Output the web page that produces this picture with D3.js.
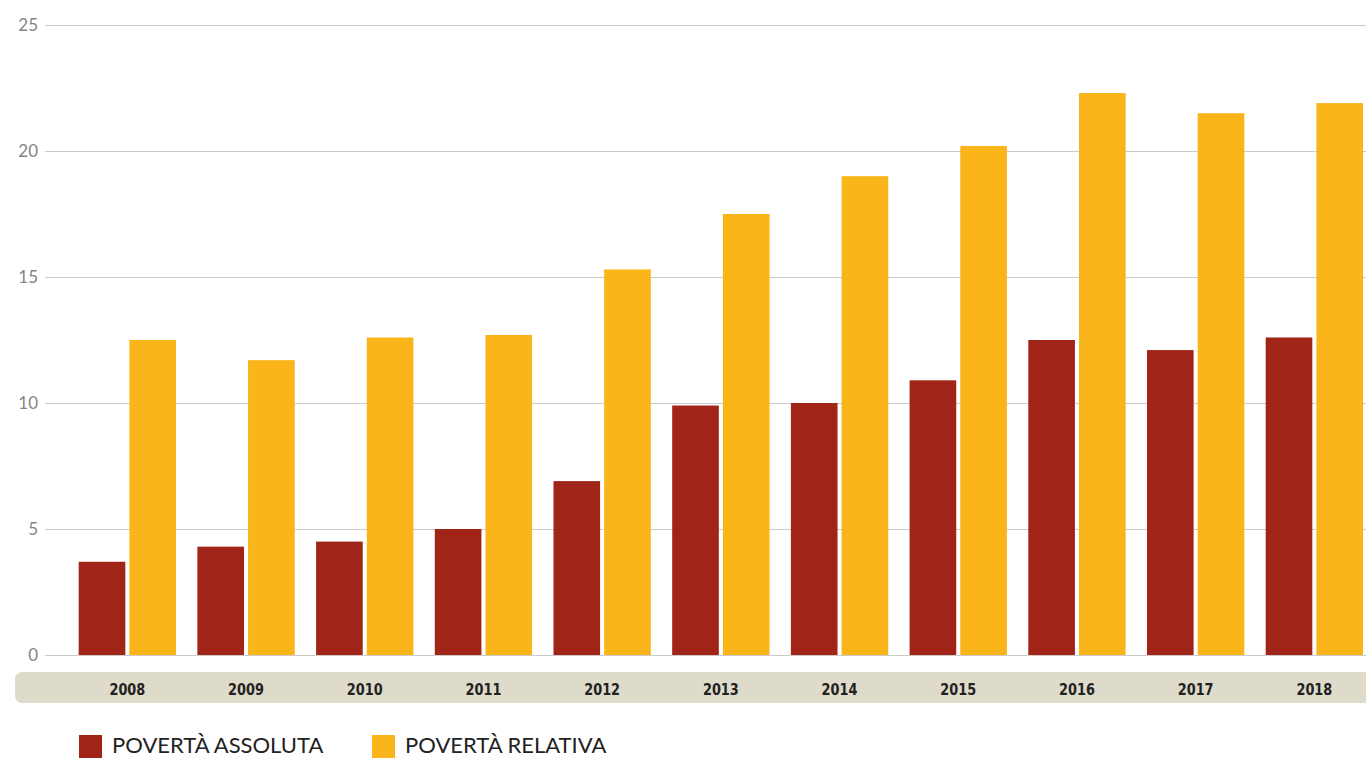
<!DOCTYPE html>
<html>
<head>
<meta charset="utf-8">
<script src="https://cdn.jsdelivr.net/npm/d3@7"></script>
<style>
  body { margin: 0; background: #fff; }
  svg { display: block; }
</style>
</head>
<body>
<div id="vis"></div>
<script>
var years = ["2008", "2009", "2010", "2011", "2012", "2013", "2014", "2015", "2016", "2017", "2018"];
var assoluta = [3.7, 4.3, 4.5, 5.0, 6.9, 9.9, 10.0, 10.9, 12.5, 12.1, 12.6];
var relativa = [12.5, 11.7, 12.6, 12.7, 15.3, 17.5, 19.0, 20.2, 22.3, 21.5, 21.9];
var series_names = ["POVERTÀ ASSOLUTA", "POVERTÀ RELATIVA"];
var y_ticks = [0, 5, 10, 15, 20, 25];

var width = 1366;
var height = 758;
var colors = ["#a02418", "#f9b519"];

var svg = d3.select("#vis").append("svg")
  .attr("width", width)
  .attr("height", height);

var x_scale = d3.scaleBand()
  .domain(years)
  .range([68, 68 + 11 * 118.7])
  .paddingInner(0.18)
  .paddingOuter(0.09);

var x_inner = d3.scaleBand()
  .domain([0, 1])
  .range([0, x_scale.bandwidth()])
  .paddingInner(0.08);

var y_scale = d3.scaleLinear()
  .domain([0, 25])
  .range([655, 25]);

// gridlines + tick labels
var y_axis = svg.append("g")
  .attr("transform", "translate(45,0)")
  .call(d3.axisLeft(y_scale).tickValues(y_ticks).tickSize(-(width - 45)).tickPadding(7));
y_axis.select(".domain").remove();
y_axis.selectAll(".tick line")
  .attr("stroke", "#cbcbcb")
  .attr("stroke-width", 1.2);
y_axis.selectAll(".tick text")
  .attr("fill", "#858585")
  .style("font-family", "Lato, 'Open Sans', sans-serif")
  .style("font-size", "17px");

// bars
var groups = svg.selectAll(".year")
  .data(years)
  .enter()
  .append("g")
  .attr("class", "year")
  .attr("transform", d => "translate(" + x_scale(d) + ",0)");

groups.selectAll("rect")
  .data((d, i) => [assoluta[i], relativa[i]])
  .enter()
  .append("rect")
  .attr("x", (d, j) => x_inner(j))
  .attr("width", x_inner.bandwidth())
  .attr("y", d => y_scale(d))
  .attr("height", d => y_scale(0) - y_scale(d))
  .attr("fill", (d, j) => colors[j]);

// x axis band
svg.append("rect")
  .attr("x", 15)
  .attr("y", 672)
  .attr("width", width)
  .attr("height", 31)
  .attr("rx", 7)
  .attr("fill", "#dfdbca");

var x_axis = svg.append("g")
  .attr("transform", "translate(0,689)")
  .call(d3.axisBottom(x_scale).tickSize(0).tickPadding(0));
x_axis.select(".domain").remove();
// condensed look for the year labels
x_axis.selectAll(".tick text")
  .attr("dy", "0.34em")
  .attr("transform", "scale(0.86,1.1)")
  .attr("fill", "#222")
  .style("font-family", "'DejaVu Sans', sans-serif")
  .style("font-weight", "bold")
  .style("font-size", "15px");

// legend
var legend_x = [79, 372];
var legend = svg.selectAll(".legend")
  .data(series_names)
  .enter()
  .append("g")
  .attr("class", "legend")
  .attr("transform", (d, i) => "translate(" + legend_x[i] + ",735)");
legend.append("rect")
  .attr("width", 23)
  .attr("height", 23)
  .attr("fill", (d, i) => colors[i]);
legend.append("text")
  .attr("x", 33)
  .attr("y", 18)
  .attr("fill", "#222")
  .style("font-family", "Lato, 'Open Sans', sans-serif")
  .style("font-size", "22px")
  .text(d => d);
</script>
</body>
</html>
